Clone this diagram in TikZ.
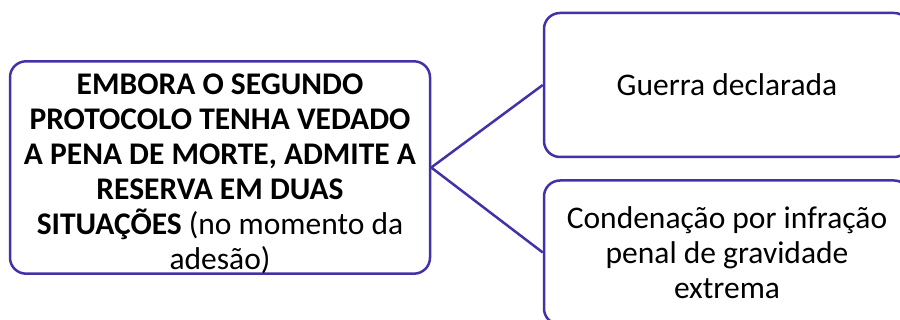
\documentclass[tikz,border=0pt]{standalone}
\usepackage{fontspec}
\setmainfont{Carlito}
\usetikzlibrary{positioning}

\definecolor{roxo}{RGB}{66,50,168}

\tikzset{
    caixa/.style={draw=roxo, line width=2.5pt, rounded corners=16pt, align=center,
        inner sep=0pt, font=\fontsize{31.5}{35}\selectfont},
    ligacao/.style={draw=roxo, line width=2.5pt}
}

\begin{document}
\begin{tikzpicture}[x=1pt,y=1pt]
    \useasboundingbox (0,0) rectangle (900,320);

    % caixa da esquerda
    \node[caixa, minimum width=420pt, minimum height=211pt] (reserva) at (220,152.5)
        {\rule{0pt}{33pt}\textbf{EMBORA O SEGUNDO}\\
         \textbf{PROTOCOLO TENHA VEDADO}\\
         \textbf{A PENA DE MORTE, ADMITE A}\\
         \textbf{RESERVA EM DUAS}\\
         \textbf{SITUAÇÕES} (no momento da\\
         adesão)};

    % caixas da direita
    \node[caixa, minimum width=366pt, minimum height=144pt] (guerra) at (727,235)
        {Guerra declarada};
    \node[caixa, minimum width=366pt, minimum height=144pt, below=21pt of guerra] (condenacao)
        {Condenação por infração\\ penal de gravidade\\ extrema};

    % ligações
    \draw[ligacao] (guerra.west) -- (reserva.east) -- (condenacao.west);
\end{tikzpicture}
\end{document}
